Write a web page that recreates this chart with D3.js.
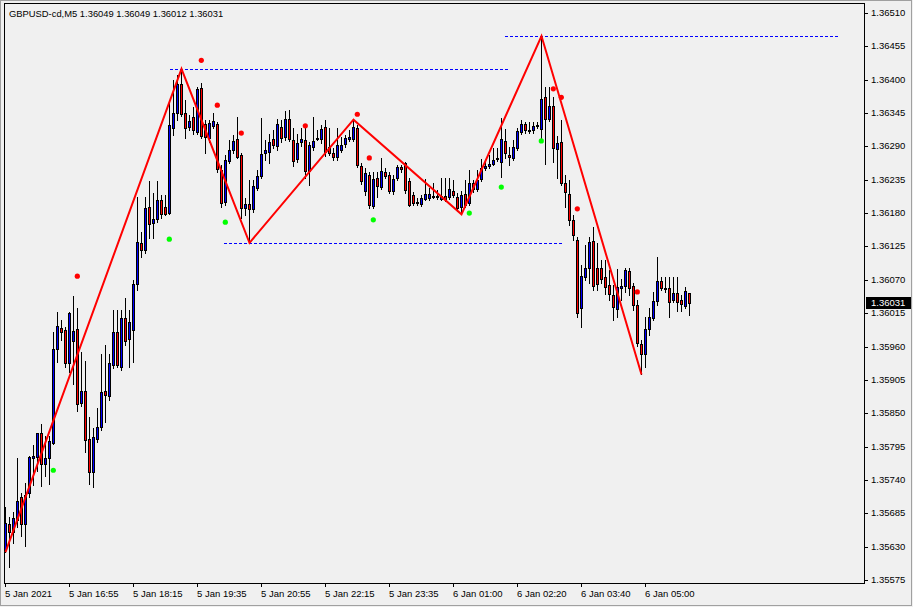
<!DOCTYPE html>
<html><head><meta charset="utf-8">
<script src="https://cdn.jsdelivr.net/npm/d3@7"></script>
<style>html,body{margin:0;padding:0;background:#f0f0f0;overflow:hidden}svg{display:block}</style>
</head><body><svg id="c" width="913" height="607"></svg>
<script>
const title = "GBPUSD-cd,M5  1.36049 1.36049 1.36012 1.36031";
const lastPrice = 1.36031;
const opens = [1.35624,1.35667,1.35654,1.35674,1.35712,1.35667,1.35718,1.35776,1.35778,1.35817,1.35766,1.35776,1.35801,1.35956,1.35990,1.35987,1.35933,1.35969,1.35989,1.35867,
1.35886,1.35807,1.35753,1.35807,1.35827,1.35886,1.35878,1.35929,1.35984,1.35926,1.36007,1.35972,1.35987,1.36063,1.36131,1.36119,1.36190,1.36164,1.36170,1.36202,
1.36190,1.36180,1.36320,1.36345,1.36393,1.36345,1.36322,1.36339,1.36314,1.36386,1.36327,1.36304,1.36324,1.36327,1.36251,1.36198,1.36266,1.36284,1.36302,1.36276,
1.36188,1.36195,1.36187,1.36221,1.36241,1.36279,1.36281,1.36302,1.36291,1.36322,1.36306,1.36335,1.36301,1.36269,1.36297,1.36301,1.36249,1.36289,1.36302,1.36302,
1.36322,1.36289,1.36279,1.36273,1.36284,1.36294,1.36302,1.36302,1.36320,1.36258,1.36216,1.36243,1.36192,1.36238,1.36223,1.36248,1.36243,1.36216,1.36238,1.36256,
1.36263,1.36233,1.36210,1.36197,1.36195,1.36203,1.36205,1.36207,1.36208,1.36203,1.36208,1.36207,1.36216,1.36207,1.36190,1.36211,1.36197,1.36230,1.36220,1.36236,
1.36254,1.36258,1.36261,1.36269,1.36264,1.36299,1.36276,1.36271,1.36287,1.36314,1.36327,1.36315,1.36317,1.36324,1.36319,1.36372,1.36335,1.36357,1.36286,1.36297,
1.36230,1.36211,1.36169,1.36136,1.36023,1.36075,1.36089,1.36134,1.36089,1.36089,1.36075,1.36061,1.36045,1.36022,1.36056,1.36060,1.36084,1.36060,1.36028,1.35964,
1.35947,1.35989,1.36007,1.36035,1.36068,1.36056,1.36056,1.36037,1.36048,1.36037,1.36027,1.36049];
const highs = [1.35695,1.35679,1.35687,1.35776,1.35718,1.35735,1.35779,1.35797,1.35818,1.35832,1.35812,1.35812,1.35984,1.36017,1.36004,1.35992,1.36017,1.36043,1.36023,1.35951,
1.35936,1.35844,1.35825,1.35858,1.35948,1.35962,1.35948,1.36020,1.36020,1.36020,1.36040,1.36020,1.36070,1.36207,1.36149,1.36207,1.36233,1.36213,1.36233,1.36210,
1.36210,1.36363,1.36400,1.36408,1.36418,1.36367,1.36342,1.36355,1.36388,1.36395,1.36334,1.36334,1.36345,1.36330,1.36259,1.36276,1.36301,1.36309,1.36339,1.36279,
1.36205,1.36235,1.36235,1.36251,1.36337,1.36301,1.36311,1.36317,1.36335,1.36334,1.36348,1.36350,1.36320,1.36311,1.36320,1.36320,1.36297,1.36339,1.36317,1.36325,
1.36334,1.36320,1.36287,1.36320,1.36306,1.36309,1.36317,1.36334,1.36325,1.36263,1.36254,1.36248,1.36248,1.36248,1.36271,1.36254,1.36248,1.36243,1.36259,1.36259,
1.36264,1.36238,1.36215,1.36205,1.36210,1.36236,1.36221,1.36230,1.36218,1.36238,1.36238,1.36238,1.36235,1.36213,1.36216,1.36235,1.36251,1.36235,1.36251,1.36269,
1.36266,1.36276,1.36287,1.36287,1.36337,1.36319,1.36289,1.36301,1.36320,1.36334,1.36330,1.36330,1.36330,1.36330,1.36472,1.36388,1.36388,1.36372,1.36307,1.36334,
1.36243,1.36235,1.36177,1.36141,1.36094,1.36127,1.36141,1.36157,1.36131,1.36103,1.36103,1.36086,1.36061,1.36088,1.36071,1.36089,1.36089,1.36065,1.36037,1.35971,
1.36009,1.36023,1.36050,1.36108,1.36075,1.36075,1.36075,1.36075,1.36075,1.36045,1.36058,1.36049];
const lows = [1.35621,1.35596,1.35636,1.35662,1.35647,1.35631,1.35712,1.35731,1.35754,1.35730,1.35746,1.35733,1.35800,1.35934,1.35971,1.35926,1.35918,1.35898,1.35853,1.35862,
1.35786,1.35733,1.35728,1.35802,1.35822,1.35835,1.35872,1.35924,1.35926,1.35921,1.35962,1.35926,1.35934,1.36053,1.36108,1.36114,1.36139,1.36139,1.36165,1.36172,
1.36177,1.36179,1.36309,1.36334,1.36340,1.36304,1.36317,1.36311,1.36311,1.36304,1.36279,1.36297,1.36320,1.36248,1.36190,1.36193,1.36263,1.36279,1.36271,1.36172,
1.36177,1.36131,1.36182,1.36218,1.36238,1.36268,1.36263,1.36287,1.36284,1.36297,1.36301,1.36299,1.36258,1.36264,1.36291,1.36238,1.36226,1.36284,1.36301,1.36296,
1.36274,1.36276,1.36268,1.36268,1.36281,1.36289,1.36299,1.36299,1.36256,1.36228,1.36210,1.36188,1.36188,1.36207,1.36220,1.36238,1.36213,1.36211,1.36235,1.36248,
1.36213,1.36192,1.36193,1.36193,1.36192,1.36202,1.36202,1.36205,1.36203,1.36202,1.36200,1.36203,1.36207,1.36183,1.36178,1.36190,1.36193,1.36215,1.36216,1.36233,
1.36251,1.36254,1.36259,1.36266,1.36240,1.36271,1.36259,1.36268,1.36284,1.36311,1.36312,1.36312,1.36312,1.36320,1.36299,1.36261,1.36332,1.36264,1.36238,1.36226,
1.36190,1.36160,1.36136,1.36009,1.35992,1.36070,1.36065,1.36053,1.36053,1.36065,1.36046,1.36037,1.36004,1.36009,1.36037,1.36050,1.36045,1.36020,1.35961,1.35914,
1.35926,1.35979,1.36004,1.36028,1.36053,1.36050,1.36009,1.36033,1.36018,1.36018,1.36023,1.36012];
const closes = [1.35669,1.35654,1.35677,1.35705,1.35667,1.35715,1.35778,1.35779,1.35817,1.35766,1.35776,1.35804,1.35956,1.35994,1.35984,1.35933,1.36015,1.35985,1.35865,1.35886,
1.35806,1.35753,1.35811,1.35827,1.35885,1.35880,1.35933,1.35984,1.35929,1.36007,1.35969,1.36000,1.36063,1.36132,1.36119,1.36188,1.36162,1.36170,1.36202,1.36178,
1.36178,1.36325,1.36345,1.36393,1.36343,1.36320,1.36332,1.36317,1.36385,1.36307,1.36306,1.36329,1.36332,1.36253,1.36197,1.36268,1.36284,1.36299,1.36273,1.36188,
1.36195,1.36187,1.36225,1.36241,1.36278,1.36284,1.36297,1.36292,1.36327,1.36304,1.36335,1.36302,1.36266,1.36296,1.36302,1.36249,1.36292,1.36299,1.36304,1.36319,
1.36281,1.36279,1.36273,1.36292,1.36292,1.36304,1.36306,1.36322,1.36259,1.36233,1.36246,1.36193,1.36236,1.36225,1.36249,1.36241,1.36216,1.36236,1.36256,1.36253,
1.36218,1.36193,1.36197,1.36198,1.36205,1.36212,1.36212,1.36208,1.36207,1.36208,1.36203,1.36220,1.36210,1.36188,1.36210,1.36193,1.36230,1.36220,1.36235,1.36254,
1.36258,1.36261,1.36268,1.36271,1.36302,1.36279,1.36273,1.36289,1.36315,1.36327,1.36317,1.36317,1.36324,1.36325,1.36368,1.36335,1.36357,1.36287,1.36296,1.36230,
1.36215,1.36169,1.36144,1.36015,1.36076,1.36089,1.36132,1.36060,1.36063,1.36071,1.36058,1.36046,1.36025,1.36058,1.36060,1.36086,1.36056,1.36028,1.35966,1.35947,
1.35989,1.36009,1.36035,1.36068,1.36056,1.36055,1.36033,1.36048,1.36033,1.36030,1.36051,1.36031];

const xTickLabels = ["5 Jan 2021","5 Jan 16:55","5 Jan 18:15","5 Jan 19:35","5 Jan 20:55","5 Jan 22:15","5 Jan 23:35","6 Jan 01:00","6 Jan 02:20","6 Jan 03:40","6 Jan 05:00"];
const xTickBars = [0,16,32,48,64,80,96,112,128,144,160];
const yTickValues = [1.36510,1.36455,1.36400,1.36345,1.36290,1.36235,1.36180,1.36125,1.36070,1.36015,1.35960,1.35905,1.35850,1.35795,1.35740,1.35685,1.35630,1.35575];

const zigzag = [[0,1.35621],[44,1.36418],[61,1.36131],[87,1.36334],[114,1.36178],[134,1.36472],[159,1.35914]];
const fractalHigh = [[18,1.36076],[49,1.36432],[53,1.36358],[59,1.36312],[75,1.36324],[88,1.36343],[91,1.36271],[137,1.36385],[139,1.36371],[143,1.36187],[158,1.36050]];
const fractalLow = [[12,1.35756],[41,1.36137],[55,1.36165],[92,1.36169],[116,1.36180],[124,1.36223],[134,1.36299]];
const levelFrom = [41.25, 54.75, 125];
const levelTo = [125.75, 139.5, 208.25];
const levelPrice = [1.36418, 1.36131, 1.36472];

const svg = d3.select("#c");
const FONT = "'Liberation Sans', Arial, sans-serif";
const x = d3.scaleLinear().domain([0, 171]).range([5, 689]);
const y = d3.scaleLinear().domain([1.35575, 1.36510]).range([580, 13]);
const px = i => Math.round(x(i));
const py = v => Math.round(y(v));

// outer frame
svg.append("rect").attr("x",0.5).attr("y",0.5).attr("width",911).attr("height",605).attr("fill","#f0f0f0").attr("stroke","#a0a0a0");
// plot frame
svg.append("rect").attr("x",4.5).attr("y",3.5).attr("width",860).attr("height",580).attr("fill","#f0f0f0").attr("stroke","#000");

// level lines
const g = svg.append("g");
levelPrice.forEach((p, k) => {
  g.append("line").attr("x1", x(levelFrom[k])).attr("x2", x(levelTo[k]))
   .attr("y1", py(p)+0.5).attr("y2", py(p)+0.5)
   .attr("stroke","#0000ff").attr("stroke-width",1).attr("stroke-dasharray","3,2");
});

// candles
const cg = svg.append("g");
opens.forEach((o, i) => {
  const c = closes[i], X = px(i);
  cg.append("line").attr("x1",X+0.5).attr("x2",X+0.5).attr("y1",py(highs[i])).attr("y2",py(lows[i])+1)
    .attr("stroke","#000").attr("stroke-width",1);
  const t = Math.min(py(o), py(c)), b = Math.max(py(o), py(c));
  if (b - t >= 1) {
    cg.append("rect").attr("x",X-0.5).attr("y",t+0.5).attr("width",2).attr("height",b-t)
      .attr("fill", c >= o ? "#0000ff" : "#ff0000").attr("stroke","#000").attr("stroke-width",1);
  } else {
    cg.append("line").attr("x1",X-1).attr("x2",X+2).attr("y1",t+0.5).attr("y2",t+0.5).attr("stroke","#000");
  }
});

// zigzag
svg.append("path").datum(zigzag)
  .attr("d", d3.line().x(d => x(d[0])+0.5).y(d => y(d[1])))
  .attr("fill","none").attr("stroke","#ff0000").attr("stroke-width",2);

// fractal dots
svg.append("g").selectAll("circle.h").data(fractalHigh).join("circle")
  .attr("cx", d => x(d[0])+0.3).attr("cy", d => y(d[1])).attr("r",2.6).attr("fill","#ff0000");
svg.append("g").selectAll("circle.l").data(fractalLow).join("circle")
  .attr("cx", d => x(d[0])+0.3).attr("cy", d => y(d[1])).attr("r",2.6).attr("fill","#00ff00");

// y axis
const ya = svg.append("g");
yTickValues.forEach(v => {
  const Y = py(v);
  ya.append("line").attr("x1",865).attr("x2",868).attr("y1",Y+0.5).attr("y2",Y+0.5).attr("stroke","#000");
  ya.append("text").attr("x",871).attr("y",Y).attr("dy","0.35em").attr("font-family",FONT).attr("font-size",9.5)
    .attr("fill","#000").text(d3.format(".5f")(v));
});
// current price label
const LY = py(lastPrice);
ya.append("rect").attr("x",866).attr("y",LY-6).attr("width",45).attr("height",12).attr("fill","#000");
ya.append("text").attr("x",871).attr("y",LY).attr("dy","0.35em").attr("font-family",FONT).attr("font-size",9.5)
  .attr("fill","#fff").text(d3.format(".5f")(lastPrice));

// x axis
const xa = svg.append("g");
xTickBars.forEach((b, k) => {
  const X = px(b);
  xa.append("line").attr("x1",X+0.5).attr("x2",X+0.5).attr("y1",584).attr("y2",587).attr("stroke","#000");
  xa.append("text").attr("x",X).attr("y",597).attr("font-family",FONT).attr("font-size",9.5).attr("fill","#000").text(xTickLabels[k]);
});

// title
svg.append("text").attr("x",9).attr("y",17).attr("font-family",FONT).attr("font-size",9.4).attr("fill","#000").text(title);
</script></body></html>
